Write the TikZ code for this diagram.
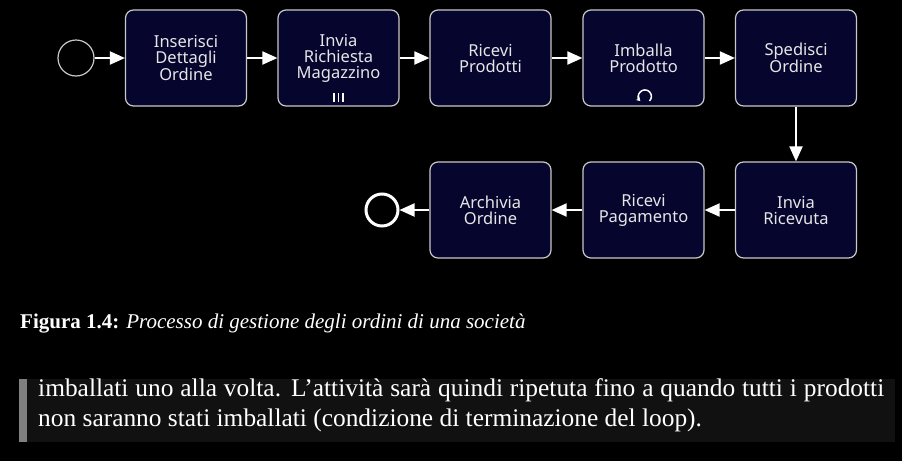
\documentclass[tikz,border=0pt]{standalone}
\usepackage{fontspec}
\setmainfont{Liberation Serif}
\newfontfamily\tasklabel{Noto Sans}
\usetikzlibrary{arrows.meta}
\definecolor{taskfill}{HTML}{05052E}
\definecolor{taskline}{HTML}{C8C8C8}
\definecolor{tasktext}{HTML}{E6E6E6}
\definecolor{notefill}{HTML}{111111}
\definecolor{notebar}{HTML}{808080}

\begin{document}
\begin{tikzpicture}[x=1pt,y=-1pt]
		\tikzset{task/.style = {shape=rectangle,rounded corners=8pt,draw=taskline,fill=taskfill,line width=1.2pt,minimum width=121pt,minimum height=96pt,align=center,text=tasktext,font=\tasklabel\fontsize{16.5}{16}\selectfont}}
		\tikzset{event/.style = {shape=circle,draw=taskline,minimum size=36pt,inner sep=0pt}}
		\tikzset{flow/.style = {-{Triangle[length=15pt,width=13pt]},white,line width=2pt}}
		\tikzset{marker/.style = {white,line width=1.5pt}}
		\fill[black] (0,0) rectangle (902,461);
		\node[event,line width=1.2pt] (start) at (76,58) {};
		\node[task] (t1) at (186,58) {Inserisci\\Dettagli\\Ordine};
		\node[task] (t2) at (338.5,58) {Invia\\Richiesta\\Magazzino};
		\node[task] (t3) at (490.5,58) {Ricevi\\Prodotti};
		\node[task] (t4) at (643.5,58) {Imballa\\Prodotto};
		\node[task] (t5) at (796,58) {Spedisci\\Ordine};
		\node[task] (t6) at (796,210) {Invia\\Ricevuta};
		\node[task] (t7) at (643.5,210) {Ricevi\\Pagamento};
		\node[task] (t8) at (490.5,210) {Archivia\\Ordine};
		\node[event,draw=white,line width=3pt,minimum size=32pt] (stop) at (382,210) {};
		\path[flow] (start) edge (t1);
		\path[flow] (t1) edge (t2);
		\path[flow] (t2) edge (t3);
		\path[flow] (t3) edge (t4);
		\path[flow] (t4) edge (t5);
		\path[flow] (t5) edge (t6);
		\path[flow] (t6) edge (t7);
		\path[flow] (t7) edge (t8);
		\path[flow] (t8) edge (stop);
		% multi-instance and loop markers
		\foreach \dx in {-4.5,0,4.5}
			\draw[marker] ([xshift=\dx pt,yshift=5pt]t2.south) -- ++(0,-9);
		\draw[marker,-{Stealth[length=4pt,width=5pt]}] (649.5,101) arc[start angle=45,end angle=-225,radius=6.5];
		% caption and text below
		\node[anchor=base west,inner sep=0pt,text=white,font=\fontsize{21}{24}\selectfont] (caption) at (20,328) {\textbf{Figura 1.4:} \textit{Processo di gestione degli ordini di una società}};
		\fill[notefill] (19,379) rectangle (895,442);
		\fill[notebar] (19,379) rectangle (27,442);
		\node[anchor=base west,inner sep=0pt,text=white,text width=846pt,align=justify,font=\fontsize{25.4}{30}\selectfont] (note) at (38,396) {imballati uno alla volta. L’attività sarà quindi ripetuta fino a quando tutti i prodotti\linebreak non saranno stati imballati (condizione di terminazione del loop).};
	\end{tikzpicture}
\end{document}
